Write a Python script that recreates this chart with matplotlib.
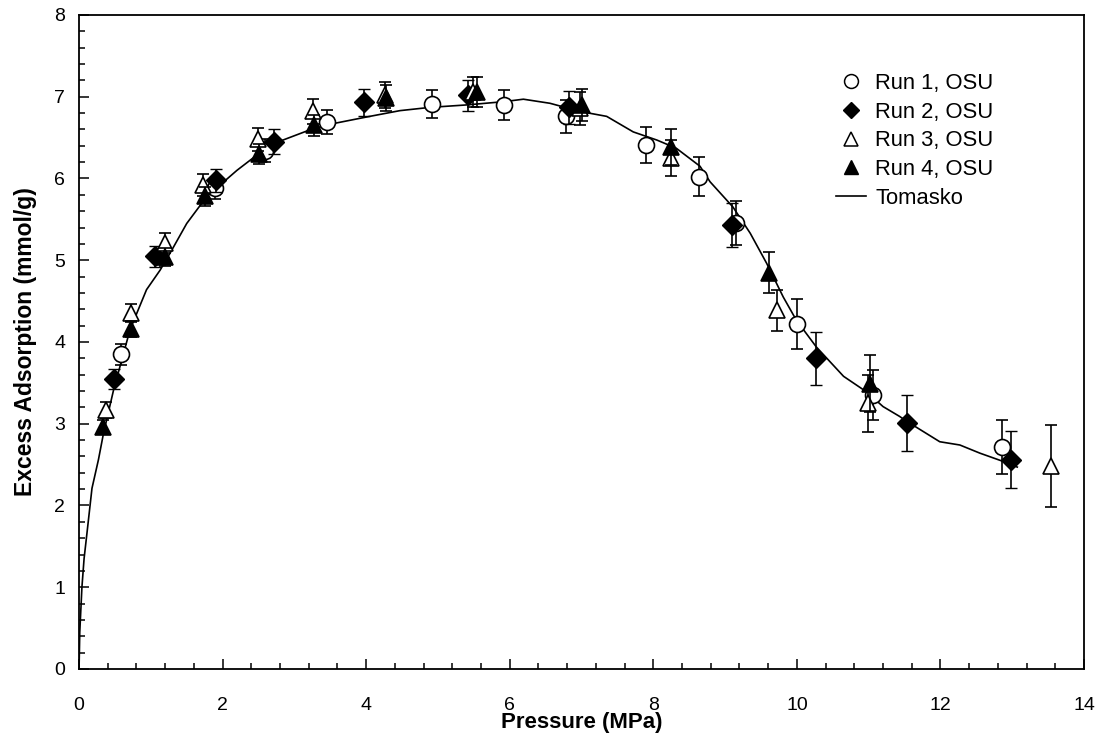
import matplotlib
matplotlib.use("Agg")
import matplotlib.pyplot as plt
from matplotlib.ticker import MultipleLocator
from matplotlib.lines import Line2D

plt.rcParams['font.family'] = ['Liberation Sans', 'DejaVu Sans']

# Run 1, OSU (open circles)
run1_x = [0.58, 1.89, 2.59, 3.45, 4.91, 5.92, 6.79, 7.90, 8.63, 9.15, 10.0, 11.06, 12.86]
run1_y = [3.85, 5.88, 6.34, 6.69, 6.91, 6.90, 6.76, 6.41, 6.02, 5.46, 4.22, 3.35, 2.72]
run1_e = [0.13, 0.13, 0.14, 0.15, 0.17, 0.18, 0.20, 0.22, 0.24, 0.27, 0.30, 0.31, 0.33]

# Run 2, OSU (filled diamonds)
run2_x = [0.49, 1.06, 1.91, 2.71, 3.97, 5.42, 6.83, 9.09, 10.26, 11.54, 12.98]
run2_y = [3.55, 5.05, 5.98, 6.45, 6.93, 7.02, 6.87, 5.43, 3.80, 3.01, 2.56]
run2_e = [0.12, 0.13, 0.14, 0.15, 0.17, 0.19, 0.20, 0.27, 0.32, 0.34, 0.35]

# Run 3, OSU (open triangles)
run3_x = [0.37, 0.72, 1.20, 1.73, 2.49, 3.26, 4.26, 5.49, 6.98, 8.25, 9.72, 10.99, 13.54]
run3_y = [3.17, 4.35, 5.21, 5.92, 6.48, 6.82, 7.02, 7.06, 6.86, 6.25, 4.39, 3.25, 2.48]
run3_e = [0.10, 0.11, 0.12, 0.13, 0.14, 0.15, 0.16, 0.18, 0.20, 0.22, 0.25, 0.35, 0.50]

# Run 4, OSU (filled triangles)
run4_x = [0.34, 0.72, 1.20, 1.75, 2.50, 3.27, 4.28, 5.54, 7.00, 8.25, 9.61, 11.02]
run4_y = [2.96, 4.16, 5.04, 5.78, 6.30, 6.65, 6.98, 7.06, 6.90, 6.39, 4.85, 3.49]
run4_e = [0.08, 0.10, 0.11, 0.12, 0.12, 0.13, 0.16, 0.18, 0.20, 0.22, 0.25, 0.35]

# Tomasko model curve
tom_x = [0, 0.01, 0.04, 0.07, 0.11, 0.18, 0.27, 0.34, 0.48, 0.71, 0.94, 1.13, 1.27,
         1.50, 1.78, 2.20, 2.66, 3.26, 3.59, 4.05, 4.47, 4.89, 5.40, 5.92, 6.19,
         6.56, 6.98, 7.35, 7.72, 8.05, 8.32, 8.65, 8.79, 9.11, 9.35, 9.58, 9.81,
         9.99, 10.27, 10.65, 10.97, 11.20, 11.43, 11.53, 11.99, 12.27, 12.55, 12.87, 13.07]
tom_y = [0, 0.45, 1.0, 1.35, 1.66, 2.21, 2.56, 2.88, 3.41, 4.15, 4.64, 4.88, 5.09,
         5.45, 5.78, 6.10, 6.41, 6.61, 6.68, 6.76, 6.83, 6.87, 6.90, 6.94, 6.97,
         6.92, 6.82, 6.76, 6.57, 6.47, 6.37, 6.15, 5.96, 5.65, 5.33, 4.96, 4.55,
         4.27, 3.94, 3.58, 3.39, 3.21, 3.09, 3.03, 2.78, 2.74, 2.64, 2.54, 2.47]

legend_labels = ['Run 1, OSU', 'Run 2, OSU', 'Run 3, OSU', 'Run 4, OSU', 'Tomasko']

fig = plt.figure(figsize=(11.01, 7.35), dpi=100)
ax = fig.add_axes([0.0718, 0.0898, 0.9128, 0.8898])

ms = 11.5
eb = dict(ecolor='black', elinewidth=1.2, capsize=4.5, capthick=1.2, linestyle='none')

ax.plot(tom_x, tom_y, color='black', lw=1.2, zorder=2)
ax.errorbar(run1_x, run1_y, yerr=run1_e, marker='o', ms=ms, mfc='white', mec='black',
            mew=1.2, zorder=3, **eb)
ax.errorbar(run2_x, run2_y, yerr=run2_e, marker='D', ms=10.2, mfc='black', mec='black',
            mew=1.0, zorder=4, **eb)
ax.errorbar(run3_x, run3_y, yerr=run3_e, marker='^', ms=ms, mfc='white', mec='black',
            mew=1.2, zorder=5, **eb)
ax.errorbar(run4_x, run4_y, yerr=run4_e, marker='^', ms=ms, mfc='black', mec='black',
            mew=1.2, zorder=6, **eb)

ax.set_xlim(0, 14)
ax.set_ylim(0, 8)
ax.xaxis.set_major_locator(MultipleLocator(2))
ax.xaxis.set_minor_locator(MultipleLocator(0.4))
ax.yaxis.set_major_locator(MultipleLocator(1))
ax.yaxis.set_minor_locator(MultipleLocator(0.2))
ax.tick_params(which='both', direction='in', top=False, right=False, width=1.1, labelsize=14)
ax.tick_params(which='major', length=7)
ax.tick_params(which='minor', length=4)
ax.tick_params(axis='x', pad=20)
ax.tick_params(axis='y', pad=10)
for s in ax.spines.values():
    s.set_linewidth(1.3)

ax.set_xlabel('Pressure (MPa)', fontsize=16, fontweight='bold', labelpad=-1)
ax.set_ylabel('Excess Adsorption (mmol/g)', fontsize=16.5, fontweight='bold', labelpad=12)

leg_handles = [
    Line2D([], [], marker='o', ms=10, mfc='white', mec='black', mew=1.1, ls='none'),
    Line2D([], [], marker='D', ms=8.5, mfc='black', mec='black', ls='none'),
    Line2D([], [], marker='^', ms=10, mfc='white', mec='black', mew=1.1, ls='none'),
    Line2D([], [], marker='^', ms=10, mfc='black', mec='black', ls='none'),
    Line2D([], [], color='black', lw=1.2),
]
ax.legend(leg_handles, legend_labels, loc='upper right', bbox_to_anchor=(0.925, 0.935),
          frameon=False, fontsize=15.8, handlelength=1.4, handletextpad=0.4,
          labelspacing=0.35, borderpad=0.2)

fig.savefig('out.png', dpi=100)
